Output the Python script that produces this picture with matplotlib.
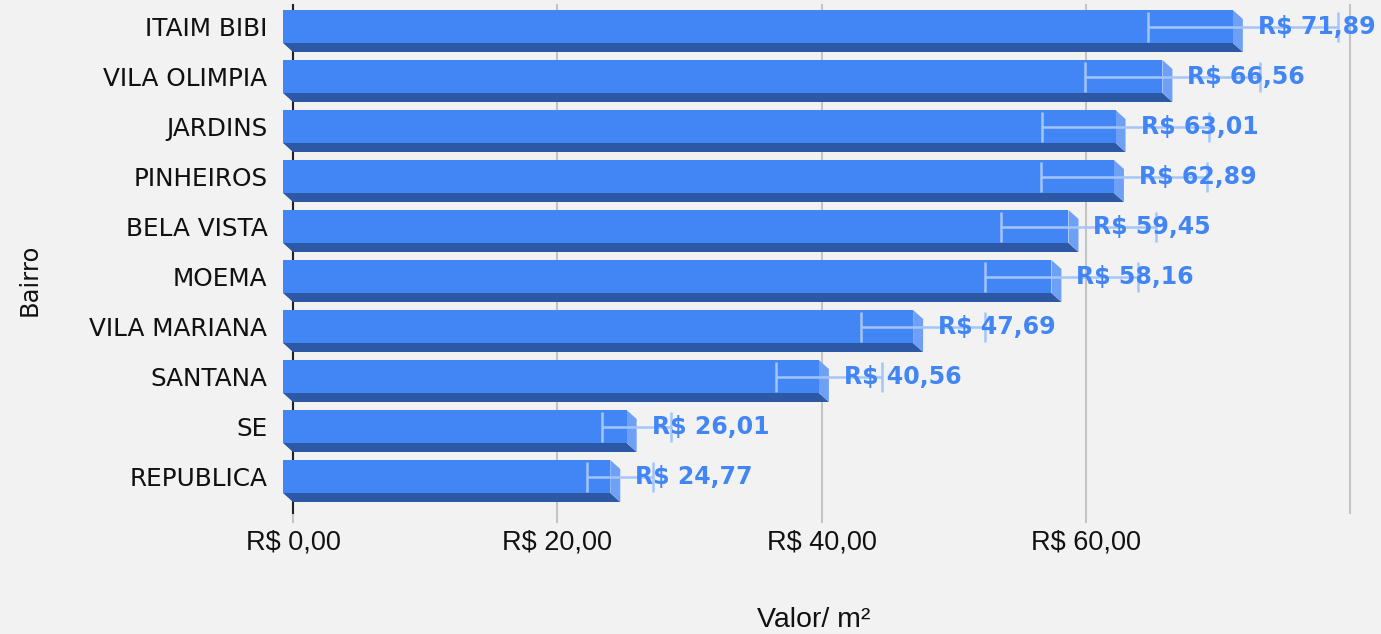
import matplotlib.pyplot as plt
from matplotlib.patches import Rectangle, Polygon

# dados (de cima para baixo)
bairros = ["ITAIM BIBI", "VILA OLIMPIA", "JARDINS", "PINHEIROS", "BELA VISTA",
           "MOEMA", "VILA MARIANA", "SANTANA", "SE", "REPUBLICA"]
valores = [71.89, 66.56, 63.01, 62.89, 59.45, 58.16, 47.69, 40.56, 26.01, 24.77]
erros = [7.2, 6.6, 6.3, 6.3, 5.9, 5.8, 4.7, 4.0, 2.6, 2.5]
x_ticks = [0, 20, 40, 60, 80]
x_tick_labels = ["R$ 0,00", "R$ 20,00", "R$ 40,00", "R$ 60,00", ""]

bg = "#f2f2f2"
cor_frente = "#4285f4"
cor_baixo = "#2c58a6"
cor_lado = "#6ea1f6"
cor_erro = "#a4c5fa"

W, H = 1381, 634
fig = plt.figure(figsize=(W / 100, H / 100), dpi=100, facecolor=bg)
ax = fig.add_axes([293 / W, (H - 513) / H, 1057 / W, 508 / H], facecolor=bg)

n = len(bairros)
ax.set_xlim(0, 80)
ax.set_ylim(-0.73, n - 1 + 0.43)

# profundidade do efeito 3D em pixels -> unidades de dados
inv = ax.transData.inverted()
p0 = inv.transform((0, 0))
p1 = inv.transform((10, 9))
dx, dy = p1[0] - p0[0], p1[1] - p0[1]

h = 0.66
for k, (nome, v, e) in enumerate(zip(bairros, valores, erros)):
    y = n - 1 - k
    yb, yt = y - h / 2, y + h / 2
    baixo = Polygon([(-dx, yb), (v - dx, yb), (v, yb - dy), (0, yb - dy)],
                    closed=True, facecolor=cor_baixo, edgecolor="none",
                    zorder=3, clip_on=False)
    lado = Polygon([(v - dx, yt), (v - dx, yb), (v, yb - dy), (v, yt - dy)],
                   closed=True, facecolor=cor_lado, edgecolor="none",
                   zorder=3, clip_on=False)
    frente = Rectangle((-dx, yb), v, h, facecolor=cor_frente,
                       edgecolor="none", zorder=3.5, clip_on=False)
    ax.add_patch(baixo)
    ax.add_patch(lado)
    ax.add_patch(frente)
    ax.errorbar(v, y, xerr=e, fmt="none", ecolor=cor_erro, elinewidth=1.8,
                capsize=10.5, capthick=1.8, zorder=4, clip_on=False)
    rotulo = "R$ " + f"{v:.2f}".replace(".", ",")
    ax.annotate(rotulo, xy=(v, y), xytext=(10.8, 0), textcoords="offset points",
                ha="left", va="center", fontsize=17, fontweight="bold",
                color=cor_frente, family="DejaVu Sans", zorder=5,
                annotation_clip=False)

ax.set_yticks([n - 1 - k for k in range(n)])
ax.set_yticklabels(bairros, fontsize=17.8, family="DejaVu Sans", color="#111111")
ax.tick_params(axis="y", length=0, pad=18.5)

ax.set_xticks(x_ticks)
ax.set_xticklabels(x_tick_labels, fontsize=19.5, family="Liberation Sans",
                   color="#111111")
ax.tick_params(axis="x", length=7, width=1.5, color="#c4c4c4", pad=5)
ax.xaxis.get_major_ticks()[0].tick1line.set_color("#222222")
ax.xaxis.get_major_ticks()[-1].tick1line.set_visible(False)

ax.set_axisbelow(True)
ax.grid(axis="x", color="#c4c4c4", linewidth=1.5)
ax.grid(axis="y", visible=False)
for gl in ax.get_xgridlines():
    gl.set_clip_on(False)
for lado_sp in ["top", "right", "bottom"]:
    ax.spines[lado_sp].set_visible(False)
ax.spines["left"].set_color("#222222")
ax.spines["left"].set_linewidth(1.5)

ax.set_xlabel("Valor/ m²", fontsize=20.5, family="Liberation Sans", color="#111111")
ax.xaxis.set_label_coords(0.493, -0.185)
ax.set_ylabel("Bairro", fontsize=17.5, family="DejaVu Sans", color="#111111")
ax.yaxis.set_label_coords(-0.238, 0.46)

fig.savefig("out.png", dpi=100, facecolor=bg)
